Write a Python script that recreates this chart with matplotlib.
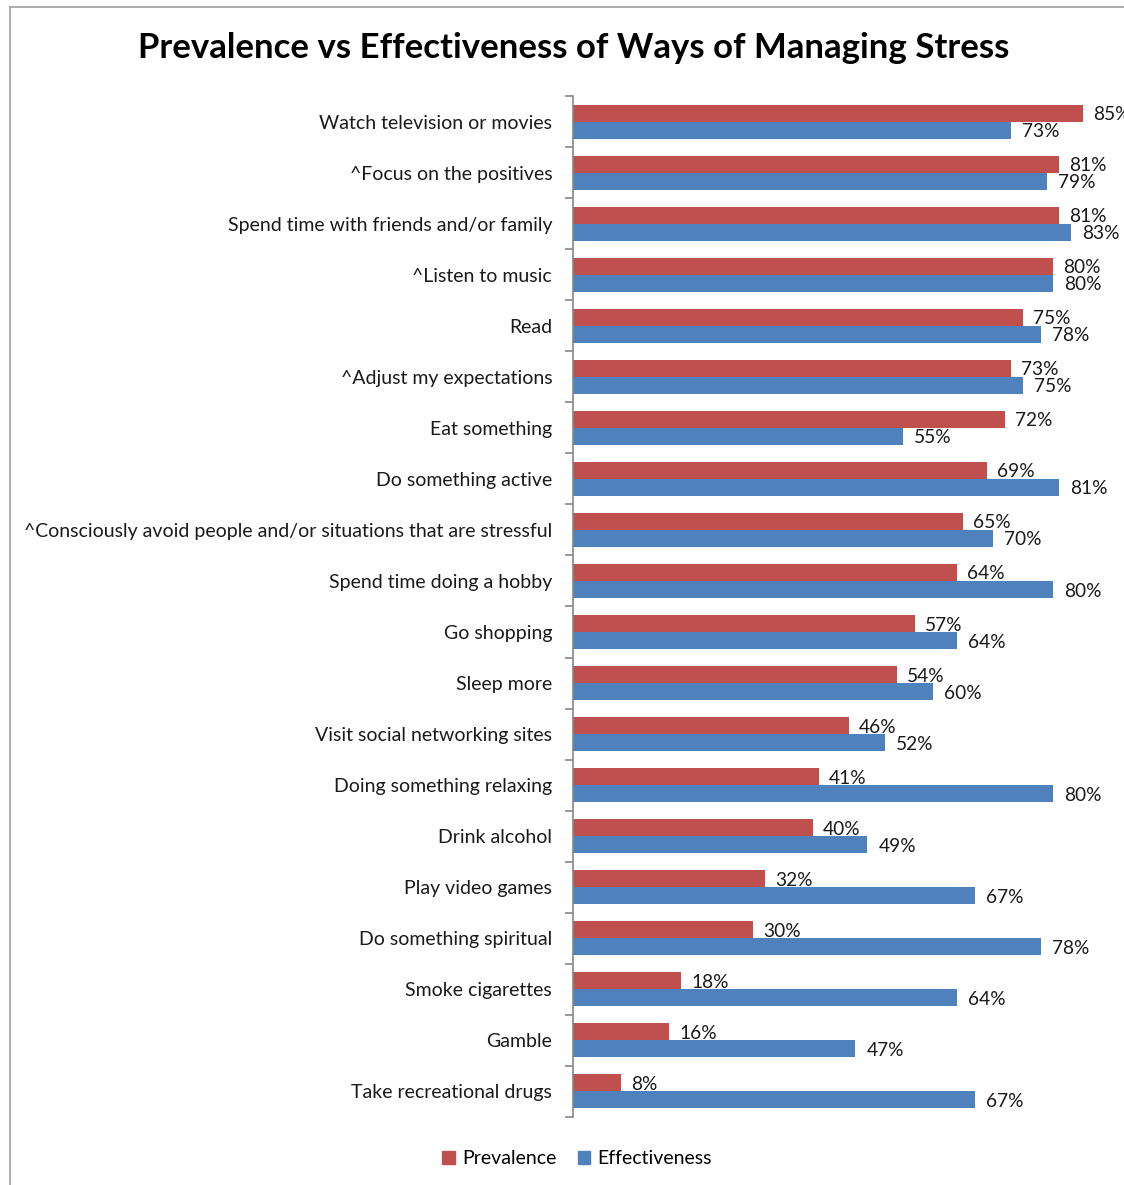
import matplotlib
matplotlib.use("Agg")
import matplotlib.pyplot as plt
from matplotlib.lines import Line2D
from matplotlib.patches import Patch
import numpy as np

categories = [
    "Watch television or movies",
    "^Focus on the positives",
    "Spend time with friends and/or family",
    "^Listen to music",
    "Read",
    "^Adjust my expectations",
    "Eat something",
    "Do something active",
    "^Consciously avoid people and/or situations that are stressful",
    "Spend time doing a hobby",
    "Go shopping",
    "Sleep more",
    "Visit social networking sites",
    "Doing something relaxing",
    "Drink alcohol",
    "Play video games",
    "Do something spiritual",
    "Smoke cigarettes",
    "Gamble",
    "Take recreational drugs",
]
prevalence = [85, 81, 81, 80, 75, 73, 72, 69, 65, 64, 57, 54, 46, 41, 40, 32, 30, 18, 16, 8]
effectiveness = [73, 79, 83, 80, 78, 75, 55, 81, 70, 80, 64, 60, 52, 80, 49, 67, 78, 64, 47, 67]
series_names = ["Prevalence", "Effectiveness"]

RED = "#C0504D"
BLUE = "#4F81BD"
FONT = ["Lato", "DejaVu Sans"]
plt.rcParams["font.family"] = FONT

W, H = 1124, 1185
fig = plt.figure(figsize=(W / 100, H / 100), dpi=100)
fig.patch.set_facecolor("white")

# axes placed in pixel coordinates
left, right, top, bottom = 573, 1173, 96, 1117
ax = fig.add_axes([left / W, (H - bottom) / H, (right - left) / W, (bottom - top) / H])
ax.set_facecolor("none")

n = len(categories)
y = np.arange(n)
bh = 1 / 3
ax.barh(y - bh / 2, prevalence, height=bh, color=RED, label=series_names[0])
ax.barh(y + bh / 2, effectiveness, height=bh, color=BLUE, label=series_names[1])

for i in range(n):
    ax.text(prevalence[i] + 1.7, y[i] - bh / 2 + 0.03, f"{prevalence[i]}%", va="center", ha="left",
            fontsize=13.8, color="#1a1a1a", clip_on=False)
    ax.text(effectiveness[i] + 1.9, y[i] + bh / 2 + 0.03, f"{effectiveness[i]}%", va="center", ha="left",
            fontsize=13.8, color="#1a1a1a", clip_on=False)

ax.set_xlim(0, 100)
ax.set_ylim(n - 0.5, -0.5)
ax.set_yticks(y)
ax.set_yticklabels(categories, fontsize=14, color="#1a1a1a")
ax.tick_params(axis="y", which="major", length=0, pad=15)
ax.set_yticks(np.arange(-0.5, n, 1.0), minor=True)
ax.tick_params(axis="y", which="minor", length=6, color="#868686", width=1.2)
ax.set_xticks([])
for s in ["top", "right", "bottom"]:
    ax.spines[s].set_visible(False)
ax.spines["left"].set_color("#868686")
ax.spines["left"].set_linewidth(1.2)

fig.text(573.5 / W, 1 - 48 / H, "Prevalence vs Effectiveness of Ways of Managing Stress",
         ha="center", va="center", fontsize=25, fontweight="bold", color="black")

handles = [Patch(color=RED), Patch(color=BLUE)]
fig.legend(handles, series_names, loc="center", bbox_to_anchor=(577 / W, 1 - 1159 / H),
           ncol=2, frameon=False, fontsize=14, handlelength=0.65, handleheight=0.65,
           handletextpad=0.35, columnspacing=1.1)

# outer chart frame (partially visible)
fig.add_artist(Line2D([9.5 / W, 9.5 / W], [0, 1 - 6.5 / H], transform=fig.transFigure,
                      color="#A0A0A0", lw=1.2))
fig.add_artist(Line2D([9.5 / W, 1], [1 - 6.5 / H, 1 - 6.5 / H], transform=fig.transFigure,
                      color="#A0A0A0", lw=1.2))

fig.savefig("out.png", dpi=100)
